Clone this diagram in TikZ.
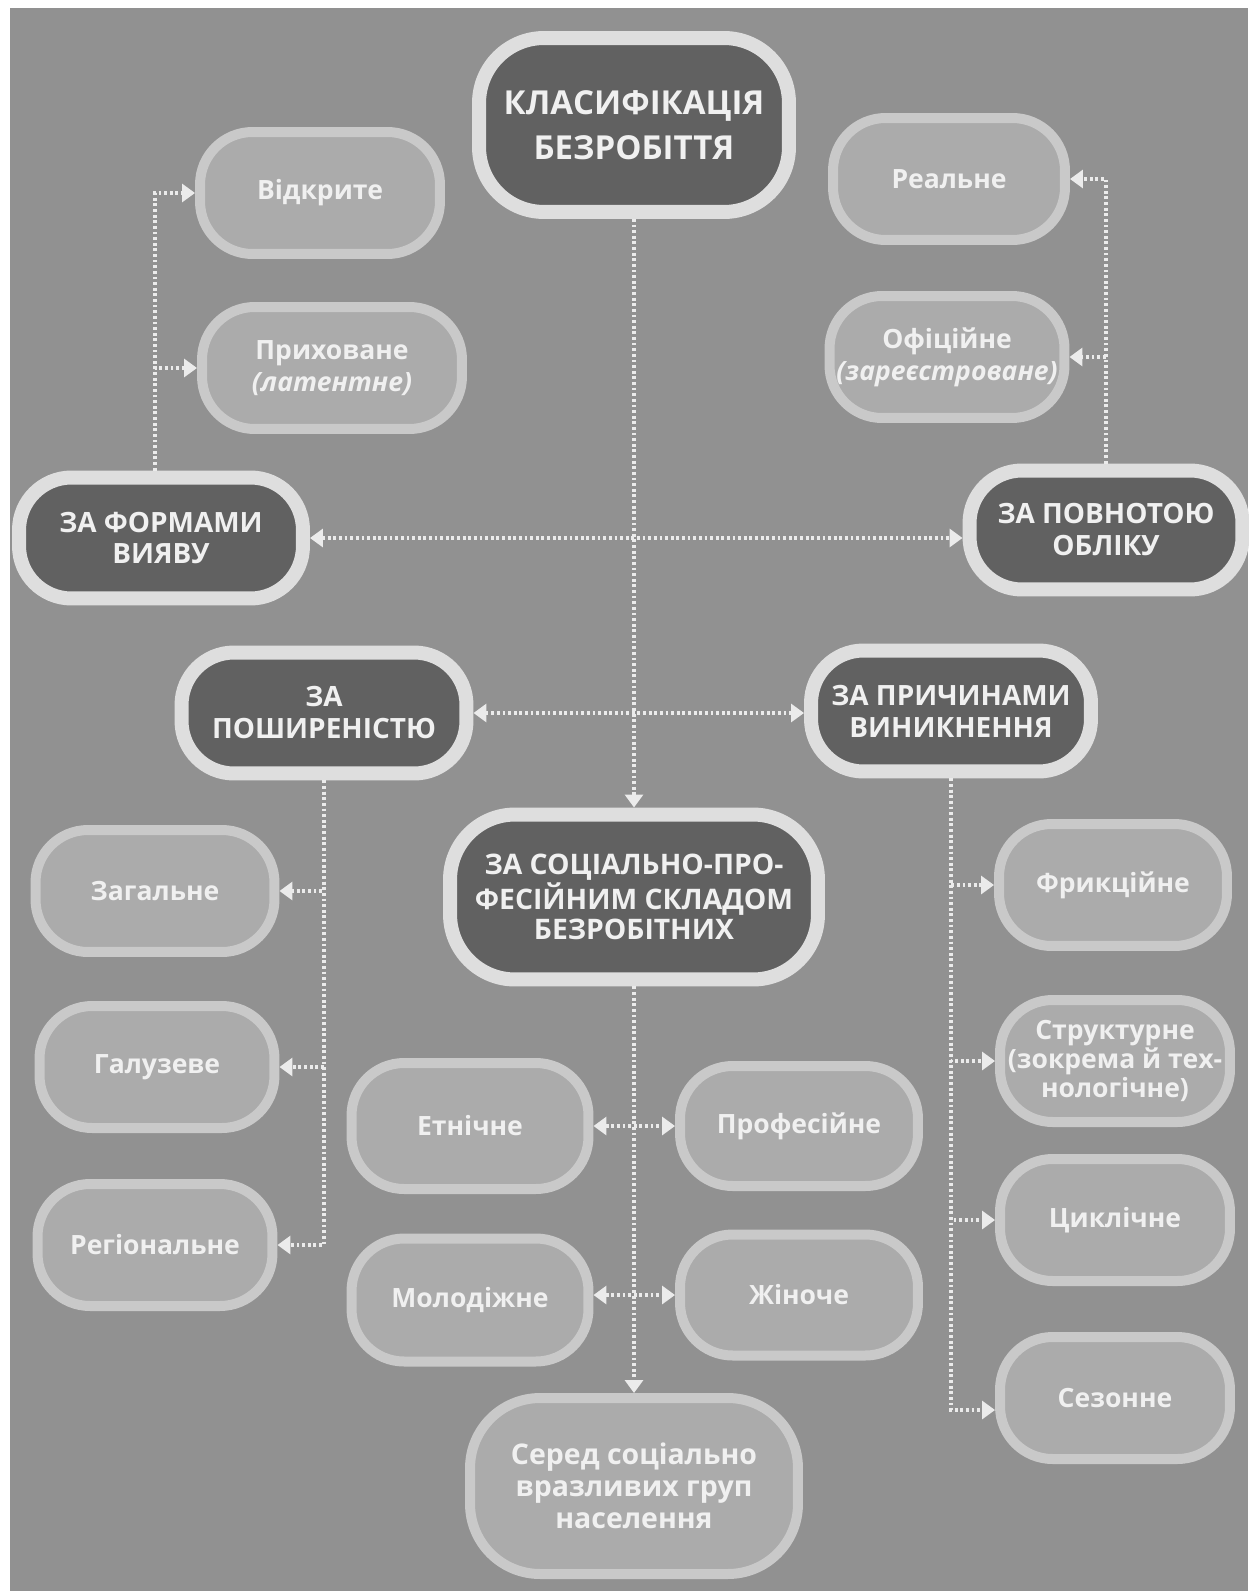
\documentclass[tikz,border=0pt]{standalone}
\usepackage{fontspec}
\setmainfont{Open Sans}
\usetikzlibrary{calc, arrows.meta}

\definecolor{bggray}{gray}{0.57}
\definecolor{darkfill}{gray}{0.38}
\definecolor{darkring}{gray}{0.87}
\definecolor{lightfill}{gray}{0.67}
\definecolor{lightring}{gray}{0.79}
\definecolor{lettering}{gray}{0.94}

\begin{document}
\begin{tikzpicture}[x=.02cm, y=-.02cm]
    \tikzstyle{group} = [rectangle, rounded corners=1.05cm, fill=darkfill,
        draw=darkring, line width=.28cm, minimum width=5.6cm, minimum
        height=2.42cm, align=center, text=lettering,
        font=\fontsize{15.9}{18.2}\selectfont\bfseries]
    \tikzstyle{kind} = [rectangle, rounded corners=1.05cm, fill=lightfill,
        draw=lightring, line width=.2cm, minimum width=4.8cm, minimum
        height=2.44cm, align=center, text=lettering,
        font=\fontsize{15.1}{18.2}\selectfont\bfseries]
    \tikzstyle{link} = [white!92!black, line width=1.8pt,
        dash pattern=on 1.6pt off 1.6pt, -{Triangle[length=.26cm, width=.36cm]}]
    \tikzstyle{both} = [link, {Triangle[length=.26cm, width=.36cm]}-{Triangle[length=.26cm, width=.36cm]}]

    \useasboundingbox (0, 0) rectangle (1248, 1591);
    \fill[white] (0, 0) rectangle (1248, 1591);
    \fill[bggray] (10, 8) rectangle (1248, 1591);

    % Title ---------------------------------------------
    \node (K) at (634, 125) [group, minimum width=6.2cm, minimum height=3.48cm,
        rounded corners=1.3cm, font=\fontsize{18.8}{25.6}\selectfont\bfseries]
        {КЛАСИФІКАЦІЯ\\БЕЗРОБІТТЯ};

    % Forms ---------------------------------------------
    \node (F) at (161, 538) [group, minimum width=5.68cm] {ЗА ФОРМАМИ\\ВИЯВУ};
    \node (F1) at ($(F) + (159, -345)$) [kind] {Відкрите};
    \node (F2) at ($(F1) + (12, 175)$) [kind, minimum width=5.2cm]
        {Приховане\\{\itshape(латентне)}};

    % Registration --------------------------------------
    \node (P) at (1106, 530) [group, minimum width=5.46cm, minimum height=2.38cm]
        {ЗА ПОВНОТОЮ\\ОБЛІКУ};
    \node (P1) at ($(P) + (-157, -351)$) [kind, minimum width=4.64cm] {Реальне};
    \node (P2) at ($(P1) + (-2, 178)$) [kind, minimum width=4.7cm]
        {Офіційне\\{\itshape(зареєстроване)}};

    % Spread --------------------------------------------
    \node (R) at (324, 713) [group, minimum width=5.7cm] {ЗА\\ПОШИРЕНІСТЮ};
    \node (R1) at ($(R) + (-169, 178)$) [kind, minimum width=4.78cm] {Загальне};
    \node (R2) at ($(R1) + (2, 176)$) [kind, minimum width=4.7cm] {Галузеве};
    \node (R3) at ($(R2) + (-2, 178)$) [kind, minimum width=4.7cm] {Регіональне};

    % Causes --------------------------------------------
    \node (V) at (951, 711) [group] {ЗА ПРИЧИНАМИ\\ВИНИКНЕННЯ};
    \node (V1) at ($(V) + (162, 174)$) [kind, minimum width=4.56cm] {Фрикційне};
    \node (V2) at ($(V1) + (2, 176)$) [kind, minimum width=4.6cm,
        font=\fontsize{15.1}{14.6}\selectfont\bfseries]
        {Структурне\\(зокрема й тех-\\нологічне)};
    \node (V3) at ($(V2) + (0, 159)$) [kind, minimum width=4.6cm] {Циклічне};
    \node (V4) at ($(V3) + (0, 178)$) [kind, minimum width=4.6cm] {Сезонне};

    % Social and professional ---------------------------
    \node (S) at (634, 897) [group, minimum width=7.36cm, minimum height=3.3cm,
        rounded corners=1.3cm, font=\fontsize{16.1}{17.1}\selectfont\bfseries]
        {ЗА СОЦІАЛЬНО-ПРО-\\ФЕСІЙНИМ СКЛАДОМ\\БЕЗРОБІТНИХ};
    \node (S1) at ($(S) + (-164, 229)$) [kind, minimum width=4.74cm,
        minimum height=2.52cm] {Етнічне};
    \node (S2) at ($(S1) + (329, 0)$) [kind, minimum width=4.76cm,
        minimum height=2.4cm] {Професійне};
    \node (S3) at ($(S1) + (0, 174)$) [kind, minimum width=4.74cm,
        minimum height=2.46cm] {Молодіжне};
    \node (S4) at ($(S2) + (0, 169)$) [kind, minimum width=4.76cm,
        minimum height=2.42cm] {Жіноче};
    \node (S5) at ($(S) + (0, 589)$) [kind, minimum width=6.56cm,
        minimum height=3.52cm, rounded corners=1.4cm,
        font=\fontsize{16.2}{18.2}\selectfont\bfseries]
        {Серед соціально\\вразливих груп\\населення};
    % ---------------------------------------------------

    % Connectors ----------------------------------------
    \draw [link] (K.south) -- (K.south |- S.north);
    \draw [link] (S.south) -- (S.south |- S5.north);

    \draw [both] (F.east) -- (F.east -| P.west);
    \draw [both] (R.east) -- (R.east -| V.west);
    \draw [both] (S1.east) -- (S1.east -| S2.west);
    \draw [both] (S3.east |- S4.west) -- (S4.west);

    \draw [link] ($(F.north) + (-6, 0)$) |- (F1.west);
    \draw [link] ($(F.north) + (-6, 0)$) |- (F2.west);
    \draw [link] (P.north) |- (P1.east);
    \draw [link] (P.north) |- (P2.east);

    \draw [link] (R.south) |- (R1.east);
    \draw [link] (R.south) |- (R2.east);
    \draw [link] (R.south) |- (R3.east);
    \draw [link] (V.south) |- (V1.west);
    \draw [link] (V.south) |- (V2.west);
    \draw [link] (V.south) |- (V3.west);
    \draw [link] (V.south) |- ($(V4.west) + (0, 12)$);
\end{tikzpicture}
\end{document}
